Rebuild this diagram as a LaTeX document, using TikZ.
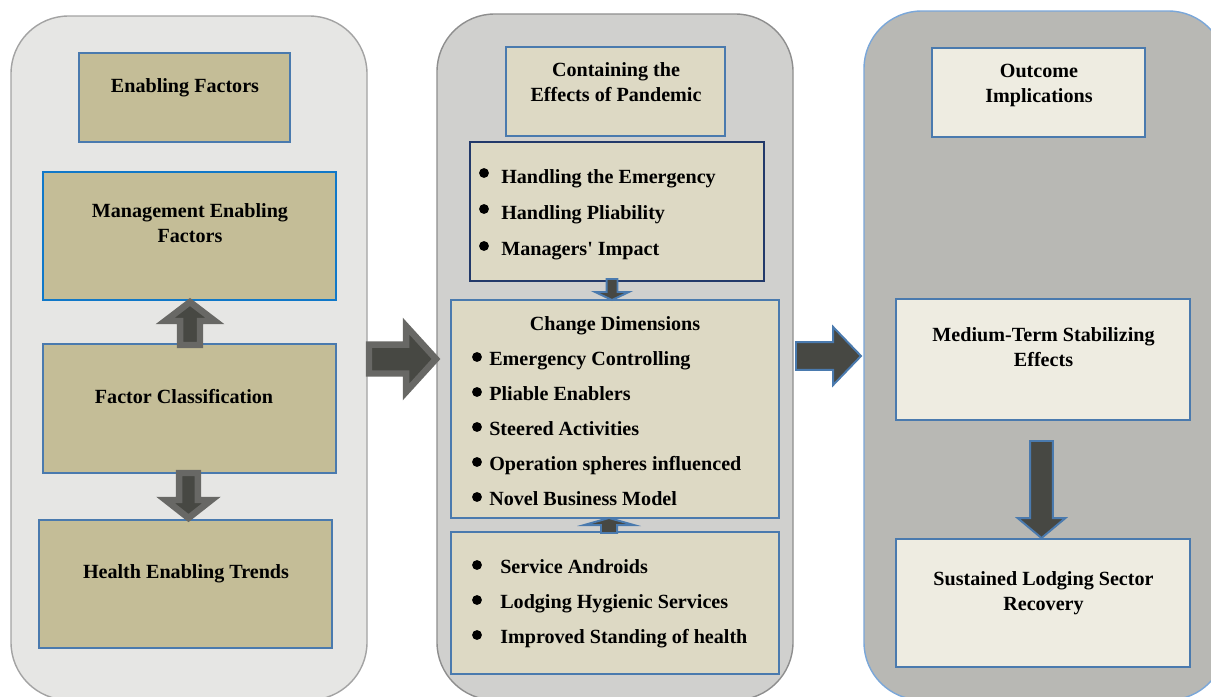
\documentclass[tikz,border=0pt]{standalone}
\usepackage{fontspec}
\setmainfont{Liberation Serif}
\usetikzlibrary{fit,calc}

\definecolor{panelAfill}{HTML}{E6E6E4}
\definecolor{panelAline}{HTML}{A3A3A3}
\definecolor{panelBfill}{HTML}{D0D0CE}
\definecolor{panelBline}{HTML}{8E8E8E}
\definecolor{panelCfill}{HTML}{B8B8B4}
\definecolor{panelCline}{HTML}{7AA7D9}
\definecolor{khaki}{HTML}{C4BD97}
\definecolor{beige}{HTML}{DDD9C4}
\definecolor{pale}{HTML}{EEECE1}
\definecolor{boxblue}{HTML}{4A7AAE}
\definecolor{brightblue}{HTML}{1078C8}
\definecolor{navy}{HTML}{22396A}
\definecolor{arrowgray}{HTML}{686865}
\definecolor{arrowdark}{HTML}{474843}

% vertical block arrow: style, start, tip, shaft half width, head half width, signed head length
\newcommand\vblock[6]{%
  \draw[#1] let \p1=#2, \p2=#3 in
    ({\x1-#4},\y1) -- ({\x1-#4},{\y2+(#6)}) -- ({\x1-#5},{\y2+(#6)}) -- (\x1,\y2)
    -- ({\x1+#5},{\y2+(#6)}) -- ({\x1+#4},{\y2+(#6)}) -- ({\x1+#4},\y1) -- cycle;}
% horizontal block arrow: style, start, tip, shaft half width, head half width, head length
\newcommand\hblock[6]{%
  \draw[#1] let \p1=#2, \p2=#3 in
    (\x1,{\y1-#4}) -- ({\x2-(#6)},{\y1-#4}) -- ({\x2-(#6)},{\y1-#5}) -- (\x2,\y1)
    -- ({\x2-(#6)},{\y1+#5}) -- ({\x2-(#6)},{\y1+#4}) -- (\x1,{\y1+#4}) -- cycle;}

\tikzset{
  panel/.style={inner sep=0pt, outer sep=0pt, rounded corners=41pt, line width=1pt},
  box/.style={draw=boxblue, line width=1.6pt, inner sep=0pt, outer sep=0pt},
  txt/.style={font=\fontsize{14.3}{17.7}\selectfont\bfseries, inner sep=0pt,
              anchor=base, align=center, text=black},
  item/.style={txt, anchor=base west, align=left},
  grayarrow/.style={draw=arrowgray, fill=arrowdark, line width=4.6pt, line join=miter},
  bluearrow/.style={draw=boxblue, fill=arrowdark, line width=1.4pt, line join=miter},
  bul/.style={fill=black},
}

\begin{document}
\begin{tikzpicture}[x=0.025cm, y=-0.025cm]
\useasboundingbox (0,0) rectangle (1211,697);
\clip (0,0) rectangle (1211,697);
\fill[white] (0,0) rectangle (1211,697);

% three column panels
\node[panel, draw=panelAline, fill=panelAfill, fit={(11,16)(367,700)}] (lp) {};
\node[panel, draw=panelBline, fill=panelBfill, fit={(437,14)(793,700)}] (mp) {};
\node[panel, draw=panelCline, fill=panelCfill, fit={(864,11)(1226,700)}] (rp) {};

% left column
\node[box, fill=khaki, fit={(79,53)(290,142)}] (ef) {};
\node[box, fill=khaki, draw=brightblue, line width=1pt, fit={(43,172)(336,300)}] (mef) {};
\node[box, fill=khaki, fit={(43,344)(336,473)}] (fc) {};
\node[box, fill=khaki, fit={(39,520)(332,648)}] (het) {};

% two-line labels are anchored at the baseline of their last line
\node[txt] (tef) at (185,92) {Enabling Factors};
\node[txt] (tmef) at (190,242) {Management Enabling\\Factors};
\node[txt] (tfc) at (184,403) {Factor Classification};
\node[txt] (thet) at (186,578) {Health Enabling Trends};

\vblock{grayarrow}{($(fc.north)+(0.5,1)$)}{($(mef.south)+(0,2)$)}{7.1pt}{17.7pt}{-13.5pt}
\vblock{grayarrow}{($(fc.south)+(-1,0)$)}{($(het.north)+(0,-2)$)}{6.7pt}{16.3pt}{12.8pt}

% middle column
\node[box, fill=beige, fit={(506,47)(725,136)}] (cont) {};
\node[box, fill=beige, draw=navy, line width=1pt, fit={(470,142)(764,281)}] (b1) {};
\node[box, fill=beige, fit={(451,300)(779,518)}] (cd) {};
\node[box, fill=beige, fit={(451,532)(779,674)}] (bot) {};

\node[txt] (tcont) at (616,101) {Containing the\\Effects of Pandemic};

\foreach \yb/\yt/\label [count=\i] in {173/183/Handling the Emergency,
    209/219/Handling Pliability, 246/255/Managers\textquotesingle\ Impact}{
  \fill[bul] (484,\yb) circle[radius=3.5pt];
  \node[item] (ha\i) at (501,\yt) {\label};
}

\node[txt] (tcd) at (615,330) {Change Dimensions};
\foreach \yb/\yt/\label [count=\i] in {357/365/Emergency Controlling,
    392/400/Pliable Enablers, 427/435/Steered Activities,
    462/470/Operation spheres influenced, 497/505/Novel Business Model}{
  \fill[bul] (477,\yb) circle[radius=3.5pt];
  \node[item] (cd\i) at (489,\yt) {\label};
}

\foreach \yb/\yt/\label [count=\i] in {565/573/Service Androids,
    600/608/Lodging Hygienic Services, 635/643/Improved Standing of health}{
  \fill[bul] (477,\yb) circle[radius=3.5pt];
  \node[item] (sv\i) at (500,\yt) {\label};
}

\vblock{bluearrow}{($(b1.south)+(-5,-2)$)}{($(cd.north)$)}{3.9pt}{12pt}{5.7pt}
\vblock{bluearrow}{($(bot.north)+(-6,1)$)}{($(cd.south)$)}{5.7pt}{17.7pt}{-5pt}

% right column
\node[box, fill=pale, fit={(932,48)(1145,137)}] (oi) {};
\node[box, fill=pale, fit={(896,299)(1190,420)}] (mts) {};
\node[box, fill=pale, fit={(896,539)(1190,667)}] (slr) {};

\node[txt] (toi) at (1039,102) {Outcome\\Implications};
\node[txt] (tmts) at (1043.5,366) {Medium-Term Stabilizing\\Effects};
\node[txt] (tslr) at (1043.5,610) {Sustained Lodging Sector\\Recovery};

\vblock{bluearrow}{($(mts.south)+(-1.5,21)$)}{($(slr.north)+(0,-1)$)}{8.1pt}{17pt}{14.2pt}

% transitions between columns
\hblock{grayarrow}{($(lp.east)+(2,1)$)}{($(mp.west)+(-1,0)$)}{10.3pt}{23.4pt}{21.3pt}
\hblock{bluearrow}{($(mp.east)+(3,-1)$)}{($(rp.west)+(-3,0)$)}{9.9pt}{20.6pt}{19.8pt}
\end{tikzpicture}
\end{document}
